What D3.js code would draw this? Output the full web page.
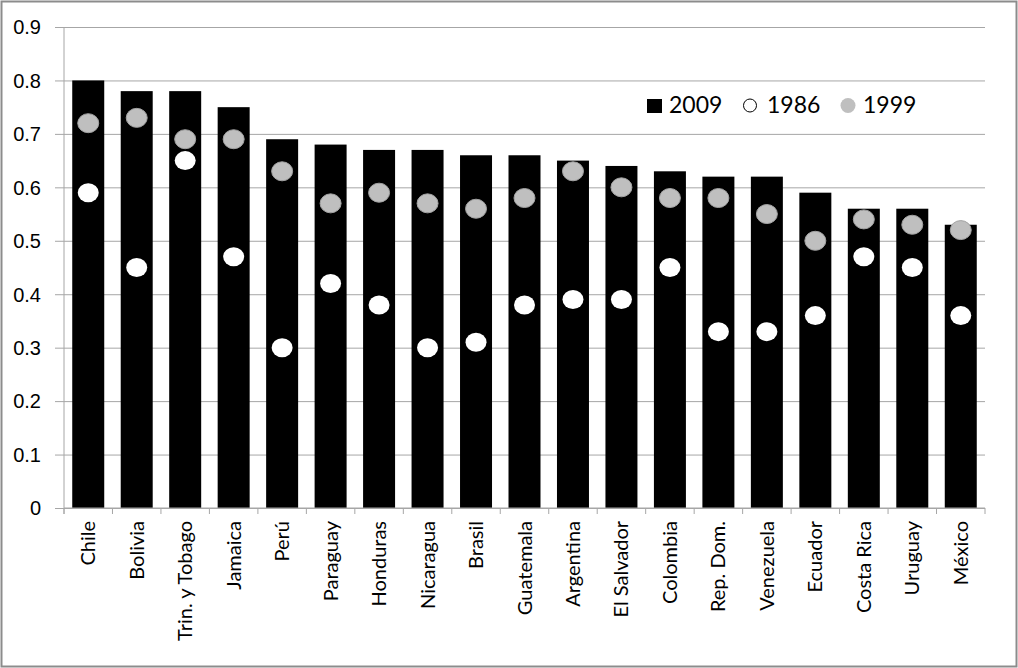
<!DOCTYPE html>
<html>
<head>
<meta charset="utf-8">
<script src="https://cdn.jsdelivr.net/npm/d3@7"></script>
<style>
  html, body { margin: 0; padding: 0; background: #fff; }
  svg { display: block; font-family: Lato, "Open Sans", sans-serif; }
</style>
</head>
<body>
<svg id="chart" width="1018" height="668"></svg>
<script>
const countries = ["Chile", "Bolivia", "Trin. y Tobago", "Jamaica", "Perú", "Paraguay", "Honduras",
  "Nicaragua", "Brasil", "Guatemala", "Argentina", "El Salvador", "Colombia", "Rep. Dom.",
  "Venezuela", "Ecuador", "Costa Rica", "Uruguay", "México"];
const values2009 = [0.80, 0.78, 0.78, 0.75, 0.69, 0.68, 0.67, 0.67, 0.66, 0.66, 0.65, 0.64, 0.63, 0.62, 0.62, 0.59, 0.56, 0.56, 0.53];
const values1986 = [0.59, 0.45, 0.65, 0.47, 0.30, 0.42, 0.38, 0.30, 0.31, 0.38, 0.39, 0.39, 0.45, 0.33, 0.33, 0.36, 0.47, 0.45, 0.36];
const values1999 = [0.72, 0.73, 0.69, 0.69, 0.63, 0.57, 0.59, 0.57, 0.56, 0.58, 0.63, 0.60, 0.58, 0.58, 0.55, 0.50, 0.54, 0.53, 0.52];
const yTicks = [0, 0.1, 0.2, 0.3, 0.4, 0.5, 0.6, 0.7, 0.8, 0.9];
const seriesNames = ["2009", "1986", "1999"];

const svg = d3.select("#chart");
const W = 1018, H = 668;
const plot = { left: 64, right: 985, top: 27, bottom: 508 };

// outer frame
svg.append("rect").attr("x", 1.5).attr("y", 1.5).attr("width", W - 3).attr("height", H - 3)
  .attr("fill", "#fff").attr("stroke", "#8c8c8c").attr("stroke-width", 2);

const x = d3.scaleBand().domain(countries).range([plot.left, plot.right]).paddingInner(0.34).paddingOuter(0.17);
const y = d3.scaleLinear().domain([0, 0.9]).range([plot.bottom, plot.top]);

// horizontal gridlines with outside ticks
const yAxis = d3.axisLeft(y).tickValues(yTicks).tickFormat(d => d === 0 ? "0" : d3.format(".1f")(d))
  .tickSize(-(plot.right - plot.left)).tickSizeOuter(0).tickPadding(14);
const gy = svg.append("g").attr("transform", `translate(${plot.left},0)`).call(yAxis);
gy.select(".domain").remove();
gy.selectAll(".tick line").attr("stroke", "#a6a6a6").attr("x1", -9);
gy.selectAll(".tick text").attr("fill", "#000").style("font-size", "20px").attr("dx", "-9").attr("dy", "0.34em");

// vertical axis line
svg.append("line").attr("x1", plot.left).attr("x2", plot.left).attr("y1", plot.top).attr("y2", plot.bottom + 6)
  .attr("stroke", "#a6a6a6");

// bars (2009)
svg.append("g").selectAll("rect").data(countries).join("rect")
  .attr("x", d => x(d))
  .attr("width", x.bandwidth())
  .attr("y", (d, i) => y(values2009[i]))
  .attr("height", (d, i) => y(0) - y(values2009[i]))
  .attr("fill", "#000");

// category axis
const step = x.step();
const xAxisG = svg.append("g");
xAxisG.append("line").attr("x1", plot.left).attr("x2", plot.right).attr("y1", plot.bottom).attr("y2", plot.bottom)
  .attr("stroke", "#a6a6a6");
const boundaries = d3.range(countries.length + 1).map(i => plot.left + i * step);
xAxisG.selectAll(".xt").data(boundaries).join("line")
  .attr("x1", d => d).attr("x2", d => d).attr("y1", plot.bottom).attr("y2", plot.bottom + 6)
  .attr("stroke", "#a6a6a6");
xAxisG.selectAll("text").data(countries).join("text")
  .attr("transform", d => `translate(${x(d) + x.bandwidth() / 2 + 7},${plot.bottom + 13}) rotate(-90)`)
  .attr("text-anchor", "end")
  .style("font-size", "20px")
  .attr("fill", "#000")
  .text(d => d);

// 1999 markers
svg.append("g").selectAll("ellipse").data(countries).join("ellipse")
  .attr("cx", d => x(d) + x.bandwidth() / 2)
  .attr("cy", (d, i) => y(values1999[i]))
  .attr("rx", 10.5).attr("ry", 9.5)
  .attr("fill", "#bfbfbf").attr("stroke", "#a3a3a3").attr("stroke-width", 1);

// 1986 markers
svg.append("g").selectAll("ellipse").data(countries).join("ellipse")
  .attr("cx", d => x(d) + x.bandwidth() / 2)
  .attr("cy", (d, i) => y(values1986[i]))
  .attr("rx", 10.5).attr("ry", 9.5)
  .attr("fill", "#fff");

// legend
const lg = svg.append("g").style("font-size", "23px");
lg.append("rect").attr("x", 647).attr("y", 99).attr("width", 15).attr("height", 14).attr("fill", "#000");
lg.append("text").attr("x", 669).attr("y", 113).text(seriesNames[0]);
lg.append("circle").attr("cx", 750).attr("cy", 105.5).attr("r", 6.5).attr("fill", "#fff").attr("stroke", "#000").attr("stroke-width", 1);
lg.append("text").attr("x", 767).attr("y", 113).text(seriesNames[1]);
lg.append("circle").attr("cx", 848).attr("cy", 105.5).attr("r", 7.5).attr("fill", "#bfbfbf");
lg.append("text").attr("x", 863).attr("y", 113).text(seriesNames[2]);
</script>
</body>
</html>
